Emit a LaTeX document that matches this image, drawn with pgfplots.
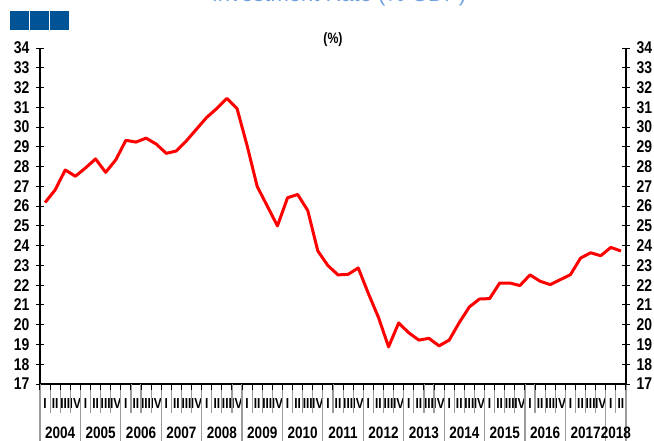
\documentclass[border=0pt]{standalone}
\usepackage{fontspec}
\usepackage{pgfplots}
\pgfplotsset{compat=1.18}
\newfontfamily\nar{Liberation Sans}[FakeStretch=0.82]
\newfontfamily\ttl{Liberation Sans}
\definecolor{sqblue}{RGB}{0,84,150}
\definecolor{ttlblue}{RGB}{110,160,225}
\definecolor{sepgray}{RGB}{155,155,155}
\begin{document}
\begin{tikzpicture}
\useasboundingbox (-40pt,-56pt) rectangle (614pt,384pt);
% header decorations
\node[anchor=base, text=ttlblue, font=\fontsize{22}{22}\selectfont\ttl] at (299pt,382.5pt) {Investment Rate (\% GDP)};
\fill[sqblue] (-30pt,354pt) rectangle (-11pt,373pt);
\fill[sqblue] (-10pt,354pt) rectangle (9pt,373pt);
\fill[sqblue] (10pt,354pt) rectangle (29pt,373pt);
\node[font=\fontsize{15}{15}\selectfont\nar\bfseries] at (293pt,344pt) {(\%)};
\begin{axis}[
  at={(0pt,0pt)}, anchor=south west,
  scale only axis, width=586pt, height=336pt,
  xmin=-0.5, xmax=57.5, ymin=17, ymax=34,
  axis x line*=bottom, axis y line*=left,
  axis line style={line width=1.3pt},
  ytick={17,...,34},
  tick align=center, major tick length=8pt,
  ytick style={black, line width=1pt},
  xtick={0,...,57},
  xticklabels={I,II,III,IV,I,II,III,IV,I,II,III,IV,I,II,III,IV,I,II,III,IV,I,II,III,IV,I,II,III,IV,I,II,III,IV,I,II,III,IV,I,II,III,IV,I,II,III,IV,I,II,III,IV,I,II,III,IV,I,II,III,IV,I,II},
  xtick style={draw=none},
  yticklabel style={font=\fontsize{17}{17}\selectfont\nar\bfseries, xshift=-3pt},
  xticklabel style={font=\fontsize{14.5}{14.5}\selectfont\nar\bfseries, anchor=base, yshift=-20pt, inner sep=0pt},
  /pgf/number format/assume math mode=true,
  clip=false,
]
\pgfplotsinvokeforeach{-0.5,0.5,...,57.5}{\draw[sepgray, line width=1.2pt] (axis cs:#1,17) -- ++(0pt,-29pt);}
\pgfplotsinvokeforeach{-0.5,3.5,...,55.5,57.5}{\draw[sepgray, line width=1.2pt] (axis cs:#1,17) -- ++(0pt,-60pt);}
\pgfplotsinvokeforeach{-0.5,0.5,...,57.5}{\draw[black, line width=1pt] (axis cs:#1,17) -- ++(0pt,-6pt);}
\addplot[red, line width=3pt, line join=round] coordinates {
(0,26.18) (1,26.82) (2,27.83) (3,27.51) (4,27.93) (5,28.39) (6,27.71) (7,28.34)
(8,29.33) (9,29.24) (10,29.44) (11,29.14) (12,28.67) (13,28.79) (14,29.31) (15,29.90)
(16,30.49) (17,30.94) (18,31.45) (19,30.94) (20,29.06) (21,26.99) (22,26.00) (23,25.00)
(24,26.42) (25,26.59) (26,25.78) (27,23.73) (28,22.99) (29,22.52) (30,22.55) (31,22.87)
(32,21.58) (33,20.37) (34,18.88) (35,20.09) (36,19.59) (37,19.22) (38,19.31) (39,18.93)
(40,19.22) (41,20.11) (42,20.90) (43,21.30) (44,21.32) (45,22.11) (46,22.11) (47,21.98)
(48,22.52) (49,22.20) (50,22.03) (51,22.28) (52,22.53) (53,23.37) (54,23.64) (55,23.49)
(56,23.91) (57,23.73)
};
\tikzset{yr/.style={anchor=base, yshift=-54pt, inner sep=0pt, font=\fontsize{16.5}{16.5}\selectfont\nar\bfseries}}
\node[yr] at (axis cs:1.5,17) {2004};
\node[yr] at (axis cs:5.5,17) {2005};
\node[yr] at (axis cs:9.5,17) {2006};
\node[yr] at (axis cs:13.5,17) {2007};
\node[yr] at (axis cs:17.5,17) {2008};
\node[yr] at (axis cs:21.5,17) {2009};
\node[yr] at (axis cs:25.5,17) {2010};
\node[yr] at (axis cs:29.5,17) {2011};
\node[yr] at (axis cs:33.5,17) {2012};
\node[yr] at (axis cs:37.5,17) {2013};
\node[yr] at (axis cs:41.5,17) {2014};
\node[yr] at (axis cs:45.5,17) {2015};
\node[yr] at (axis cs:49.5,17) {2016};
\node[yr] at (axis cs:53.5,17) {2017};
\node[yr] at (axis cs:56.5,17) {2018};
\end{axis}
\begin{axis}[
  at={(0pt,0pt)}, anchor=south west,
  scale only axis, width=586pt, height=336pt,
  xmin=-0.5, xmax=57.5, ymin=17, ymax=34,
  axis x line=none, axis y line*=right,
  axis line style={line width=1.3pt},
  ytick={17,...,34},
  tick align=center, major tick length=8pt,
  ytick style={black, line width=1pt},
  yticklabel style={font=\fontsize{17}{17}\selectfont\nar\bfseries, xshift=3pt},
  /pgf/number format/assume math mode=true,
]
\addplot[draw=none] coordinates {(0,17) (57,34)};
\end{axis}
\end{tikzpicture}
\end{document}
